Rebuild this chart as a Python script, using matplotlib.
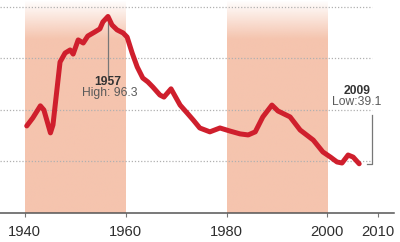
import numpy as np
import matplotlib.pyplot as plt
from matplotlib.colors import to_rgb

# values
years = [1940.4, 1941.6, 1943.1, 1943.8, 1945.1, 1945.6, 1947.0, 1948.0, 1949.0, 1949.6,
         1950.6, 1951.6, 1952.5, 1953.9, 1954.9, 1955.5, 1956.5, 1957.3, 1958.3, 1959.5,
         1960.3, 1961.3, 1962.3, 1963.4, 1964.4, 1965.4, 1966.8, 1967.6, 1969.0, 1970.8,
         1972.2, 1973.4, 1974.7, 1976.7, 1978.7, 1980.7, 1982.7, 1984.3, 1985.7, 1987.2,
         1989.0, 1990.2, 1992.6, 1994.6, 1997.2, 1999.1, 2000.6, 2001.9, 2002.9, 2004.1,
         2005.1, 2006.3]
values = [53.8, 56.9, 61.6, 60.0, 51.1, 54.2, 78.6, 82.1, 83.3, 81.7,
          87.2, 86.0, 88.7, 90.3, 91.5, 94.2, 96.3, 93.0, 91.1, 89.9,
          88.3, 82.1, 76.7, 72.4, 70.9, 68.9, 65.8, 65.0, 68.2, 61.9,
          58.8, 56.1, 53.0, 51.5, 53.0, 51.8, 50.7, 50.3, 51.5, 57.3,
          61.9, 59.6, 57.3, 52.2, 48.3, 43.7, 41.7, 39.8, 39.4, 42.5,
          41.7, 39.1]

shaded_periods = [(1940, 1960), (1980, 2000)]
grid_values = [40, 60, 80, 100]
xticks = [1940, 1960, 1980, 2000, 2010]
high_year, high_label = "1957", "High: 96.3"
low_year, low_label = "2009", "Low:39.1"

plt.rcParams['font.family'] = ['Liberation Sans', 'DejaVu Sans']

fig = plt.figure(figsize=(4, 2.42), dpi=100)
ax = fig.add_axes([0, 0.12, 0.985, 0.88])
x0, x1, y0, y1 = 1935.1, 2013.2, 20, 102.7

# shaded periods fade out towards the top
n = 200
rgba = np.zeros((n, 1, 4))
rgba[..., :3] = to_rgb('#f5c4ae')
rgba[:, 0, 3] = np.clip(np.linspace(0, y1 - y0, n) / 15, 0, 1)
for start, end in shaded_periods:
    ax.imshow(rgba, extent=(start, end, y0, y1), aspect='auto', origin='upper',
              interpolation='bilinear', zorder=0)

ax.hlines(grid_values, x0, 2008.9, colors='#b0b0b0', linestyles=(0, (1, 1.5)), lw=0.9, zorder=1)

ax.plot(years, values, color='#cf1f2d', lw=3.6, solid_joinstyle='round',
        solid_capstyle='round', zorder=3)

# high annotation
i = int(np.argmax(values))
hx, hy = years[i], values[i]
ax.plot([hx, hx], [hy, hy - 22.7], color='#777777', lw=0.9, zorder=2)
ax.text(hx, hy - 25.3, high_year, ha='center', va='center', fontsize=8.7,
        fontweight='bold', color='#333333')
ax.text(hx + 0.3, hy - 29.8, high_label, ha='center', va='center', fontsize=8.7,
        color='#5a5a5a')

# low annotation
lx, ly = years[-1], values[-1]
ax.plot([lx + 1.5, lx + 2.6, lx + 2.6], [ly, ly, ly + 19], color='#777777', lw=0.9, zorder=2)
ax.text(lx - 0.5, ly + 28.4, low_year, ha='center', va='center', fontsize=8.7,
        fontweight='bold', color='#333333')
ax.text(lx - 0.4, ly + 24.1, low_label, ha='center', va='center', fontsize=8.7,
        color='#5a5a5a')

ax.set_xlim(x0, x1)
ax.set_ylim(y0, y1)
ax.set_xticks(xticks)
ax.set_yticks([])
ax.tick_params(axis='x', direction='out', length=3, width=0.8, color='#777777',
               labelsize=10.6, labelcolor='#2e2e2e', pad=5.5)
for side in ['top', 'left', 'right']:
    ax.spines[side].set_visible(False)
ax.spines['bottom'].set_color('#555555')
ax.spines['bottom'].set_linewidth(1.1)
ax.patch.set_alpha(0)

fig.savefig('out.png', dpi=100)
